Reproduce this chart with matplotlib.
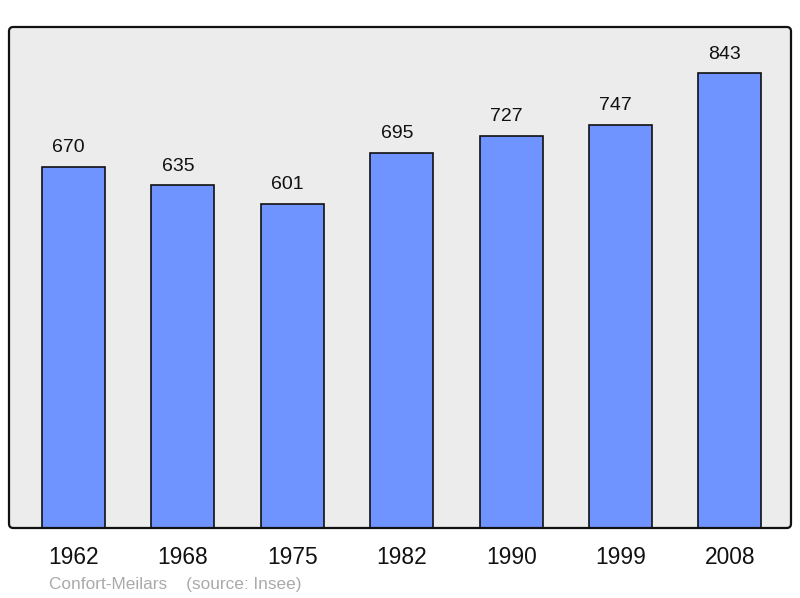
import matplotlib
matplotlib.use("Agg")
import matplotlib.pyplot as plt
from matplotlib.patches import FancyBboxPatch

years = ["1962", "1968", "1975", "1982", "1990", "1999", "2008"]
population = [670, 635, 601, 695, 727, 747, 843]
town = "Confort-Meilars"
source = "(source: Insee)"

plt.rcParams["font.family"] = ["Liberation Sans", "DejaVu Sans"]

fig = plt.figure(figsize=(8, 5.98), dpi=100)
ax = fig.add_axes([9 / 800, 70 / 598, 782 / 800, 501 / 598])
ax.set_facecolor("none")

# rounded panel: fill below the bars, border above
box = dict(boxstyle="round,pad=0,rounding_size=0.0055", mutation_aspect=1.56,
           transform=ax.transAxes, clip_on=False)
ax.add_patch(FancyBboxPatch((0, 0), 1, 1, facecolor="#ececec",
                            edgecolor="none", zorder=0, **box))
ax.add_patch(FancyBboxPatch((0, 0), 1, 1, facecolor="none",
                            edgecolor="#111111", linewidth=1.6, zorder=3, **box))

x = range(len(years))
ax.bar(x, population, width=0.576, color="#7094ff",
       edgecolor="#111111", linewidth=1.2, zorder=2)

for xi, v in zip(x, population):
    ax.annotate(str(v), (xi, v), xytext=(-3.6, 10.5), textcoords="offset points",
                ha="center", va="baseline", fontsize=14, color="#111111")

ax.set_xlim(-0.59, 6.558)
ax.set_ylim(0, 928.6)
ax.set_yticks([])
ax.set_xticks(list(x))
ax.set_xticklabels(years, fontsize=16.4, color="#111111")
ax.tick_params(axis="x", length=0, pad=13)
for s in ax.spines.values():
    s.set_visible(False)

fig.text(49 / 800, 1 - 584.5 / 598, town + "    " + source, fontsize=12.4,
         color="#aaaaaa", ha="left", va="center")

fig.savefig("out.png", dpi=100)
